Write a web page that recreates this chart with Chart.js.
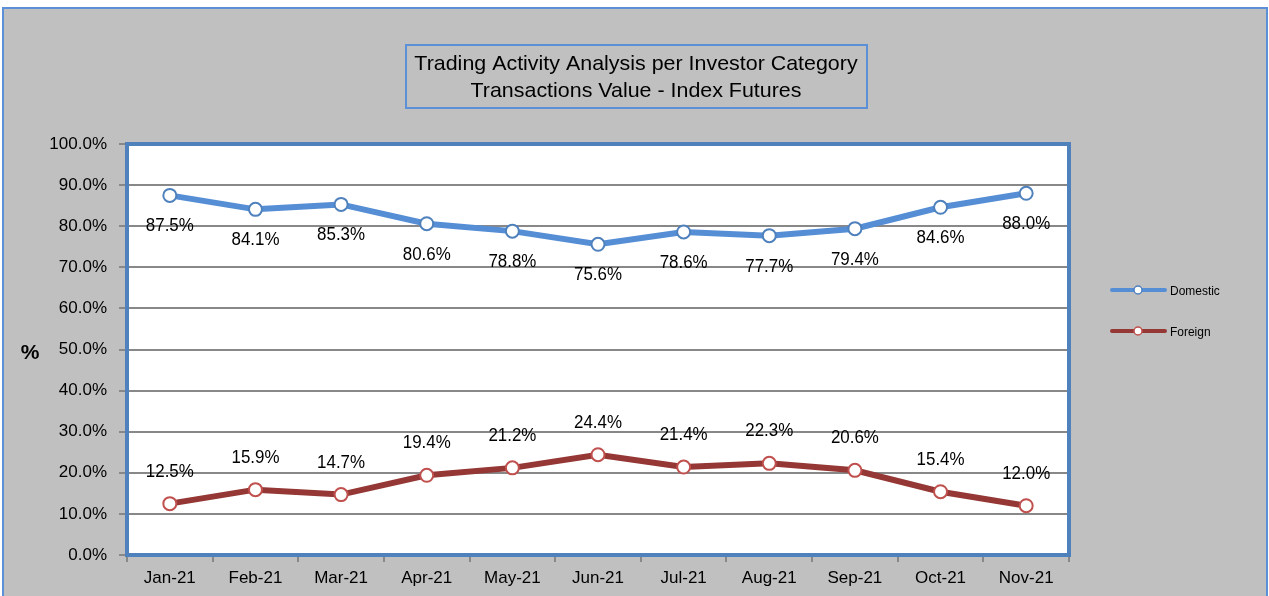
<!DOCTYPE html>
<html>
<head>
<meta charset="utf-8">
<script src="https://cdn.jsdelivr.net/npm/chart.js@4/dist/chart.umd.min.js"></script>
<style>
html,body{margin:0;padding:0;background:#fff;}
canvas{display:block;}
</style>
</head>
<body>
<canvas id="c" width="1269" height="596"></canvas>
<script>
const categories = ['Jan-21','Feb-21','Mar-21','Apr-21','May-21','Jun-21','Jul-21','Aug-21','Sep-21','Oct-21','Nov-21'];
const domestic = [87.5,84.1,85.3,80.6,78.8,75.6,78.6,77.7,79.4,84.6,88.0];
const foreign = [12.5,15.9,14.7,19.4,21.2,24.4,21.4,22.3,20.6,15.4,12.0];
const titleLines = ['Trading Activity Analysis per Investor Category','Transactions Value - Index Futures'];
const seriesNames = ['Domestic','Foreign'];

const FONT = "'Liberation Sans', Arial, sans-serif";
Chart.defaults.font.family = FONT;

function condensedText(ctx, text, x, y, sx) {
  ctx.save();
  ctx.translate(x, y);
  ctx.scale(sx, 1);
  ctx.fillText(text, 0, 0);
  ctx.restore();
}

const decor = {
  id: 'decor',
  beforeDraw(chart) {
    const ctx = chart.ctx;
    ctx.save();
    ctx.fillStyle = '#ffffff';
    ctx.fillRect(0, 0, chart.width, chart.height);
    ctx.fillStyle = '#c0c0c0';
    ctx.fillRect(3, 8, 1264, 600);
    ctx.strokeStyle = '#5b8fd6';
    ctx.lineWidth = 2;
    ctx.strokeRect(3, 8, 1264, 600);
    const a = chart.chartArea;
    ctx.fillStyle = '#ffffff';
    ctx.fillRect(a.left, a.top, a.right - a.left, a.bottom - a.top);
    // title box
    ctx.strokeStyle = '#5b8fd6';
    ctx.lineWidth = 2;
    ctx.strokeRect(406, 45, 461, 63);
    ctx.fillStyle = '#000';
    ctx.font = '21px ' + FONT;
    ctx.textAlign = 'center';
    ctx.textBaseline = 'middle';
    condensedText(ctx, titleLines[0], 636, 64, 1.02);
    condensedText(ctx, titleLines[1], 636, 91, 1.02);
    // axis title
    ctx.font = 'bold 21px ' + FONT;
    ctx.fillText('%', 30, 353);
    ctx.restore();
  },
  beforeDatasetsDraw(chart) {
    const ctx = chart.ctx;
    const a = chart.chartArea;
    ctx.save();
    ctx.strokeStyle = '#4f81bd';
    ctx.lineWidth = 4;
    ctx.strokeRect(a.left, a.top, a.right - a.left, a.bottom - a.top);
    ctx.restore();
  },
  afterDatasetsDraw(chart) {
    const ctx = chart.ctx;
    ctx.save();
    ctx.fillStyle = '#000';
    ctx.font = '18px ' + FONT;
    ctx.textAlign = 'center';
    ctx.textBaseline = 'middle';
    chart.data.datasets.forEach((ds, i) => {
      const meta = chart.getDatasetMeta(i);
      meta.data.forEach((pt, j) => {
        const off = i === 0 ? 31 : -32;
        condensedText(ctx, ds.data[j].toFixed(1) + '%', pt.x, pt.y + off, 0.94);
      });
    });
    // legend
    const ly = [290, 331];
    ctx.font = '13px ' + FONT;
    ctx.textAlign = 'left';
    chart.data.datasets.forEach((ds, i) => {
      const y = ly[i];
      ctx.strokeStyle = ds.borderColor;
      ctx.lineWidth = 4;
      ctx.lineCap = 'round';
      ctx.beginPath();
      ctx.moveTo(1112, y);
      ctx.lineTo(1165, y);
      ctx.stroke();
      ctx.beginPath();
      ctx.arc(1138, y, 4, 0, Math.PI * 2);
      ctx.fillStyle = '#fff';
      ctx.fill();
      ctx.lineWidth = 1.5;
      ctx.strokeStyle = ds.pointBorderColor;
      ctx.stroke();
      ctx.fillStyle = '#000';
      condensedText(ctx, ds.label, 1170, y + 1, 0.92);
    });
    ctx.restore();
  }
};

new Chart(document.getElementById('c'), {
  type: 'line',
  data: {
    labels: categories,
    datasets: [
      {
        label: seriesNames[0],
        data: domestic,
        borderColor: '#558ed5',
        borderWidth: 6,
        pointRadius: 6.5,
        pointBorderWidth: 2,
        pointBackgroundColor: '#ffffff',
        pointBorderColor: '#4f81bd',
        tension: 0
      },
      {
        label: seriesNames[1],
        data: foreign,
        borderColor: '#953735',
        borderWidth: 6,
        pointRadius: 6.5,
        pointBorderWidth: 2,
        pointBackgroundColor: '#ffffff',
        pointBorderColor: '#c0504d',
        tension: 0
      }
    ]
  },
  options: {
    responsive: false,
    animation: false,
    events: [],
    layout: { padding: { top: 144, right: 200, left: 0, bottom: 0 } },
    plugins: { legend: { display: false }, title: { display: false }, tooltip: { enabled: false } },
    scales: {
      x: {
        type: 'category',
        offset: true,
        grid: { display: true, drawOnChartArea: false, drawTicks: true, tickLength: 7, color: '#888', lineWidth: 2, offset: true },
        border: { display: false },
        ticks: { color: '#000', font: { size: 17 }, padding: 6, autoSkip: false, maxRotation: 0 },
        afterFit(s) { s.height = 41; }
      },
      y: {
        min: 0,
        max: 100,
        grid: { color: '#888', lineWidth: 2, tickLength: 8, tickColor: '#888' },
        border: { display: false },
        ticks: { stepSize: 10, color: '#000', font: { size: 17 }, padding: 12, callback: v => v.toFixed(1) + '%' },
        afterFit(s) { s.width = 127; }
      }
    }
  },
  plugins: [decor]
});
</script>
</body>
</html>
